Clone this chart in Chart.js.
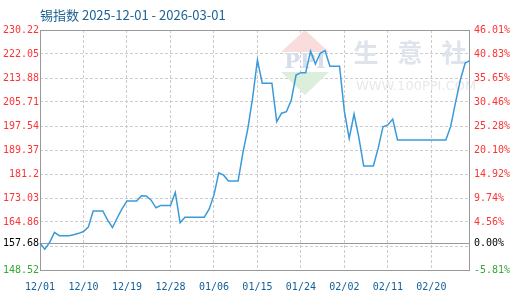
<!DOCTYPE html>
<html>
<head>
<meta charset="utf-8">
<script src="https://cdn.jsdelivr.net/npm/chart.js@4.4.1/dist/chart.umd.min.js"></script>
<style>
  html, body { margin: 0; padding: 0; background: #fff; }
</style>
</head>
<body>
<canvas id="chart" width="520" height="300"></canvas>
<script>
// Data
const titleText = '锡指数 2025-12-01 - 2026-03-01';
const dates = [
  '12/01','12/02','12/03','12/04','12/05','12/06','12/07','12/08','12/09','12/10',
  '12/11','12/12','12/13','12/14','12/15','12/16','12/17','12/18','12/19','12/20',
  '12/21','12/22','12/23','12/24','12/25','12/26','12/27','12/28','12/29','12/30','12/31',
  '01/01','01/02','01/03','01/04','01/05','01/06','01/07','01/08','01/09','01/10',
  '01/11','01/12','01/13','01/14','01/15','01/16','01/17','01/18','01/19','01/20',
  '01/21','01/22','01/23','01/24','01/25','01/26','01/27','01/28','01/29','01/30','01/31',
  '02/01','02/02','02/03','02/04','02/05','02/06','02/07','02/08','02/09','02/10',
  '02/11','02/12','02/13','02/14','02/15','02/16','02/17','02/18','02/19','02/20',
  '02/21','02/22','02/23','02/24','02/25','02/26','02/27','02/28'
];
const tinIndex = [
  157.68, 155.6, 157.9, 161.3, 160.2, 160.2, 160.2, 160.5, 161.0, 161.6,
  163.1, 168.6, 168.6, 168.6, 165.5, 163.0, 166.3, 169.4, 172.0, 172.0,
  172.0, 173.8, 173.7, 172.3, 169.7, 170.5, 170.5, 170.5, 174.9, 164.6, 166.5,
  166.5, 166.5, 166.5, 166.5, 169.2, 174.0, 181.6, 180.8, 178.8, 178.8,
  178.8, 188.5, 196.5, 207.0, 220.0, 212.1, 212.1, 212.1, 199.0, 201.9,
  202.4, 206.3, 214.9, 215.7, 215.7, 223.0, 218.6, 222.3, 223.2, 217.9, 217.9,
  217.9, 202.5, 193.3, 201.6, 193.6, 183.9, 183.9, 183.9, 190.0, 197.3,
  197.9, 199.9, 192.8, 192.8, 192.8, 192.8, 192.8, 192.8, 192.8, 192.8,
  192.8, 192.8, 192.8, 197.4, 205.5, 213.2, 219.0, 219.8
];
const basePrice = 157.68;
const leftTicks = [148.52, 156.69, 157.68, 164.86, 173.03, 181.2, 189.37, 197.54, 205.71, 213.88, 222.05, 230.22];
const leftTickLabels = ['148.52', '', '157.68', '164.86', '173.03', '181.2', '189.37', '197.54', '205.71', '213.88', '222.05', '230.22'];
const rightTicks = [-5.81, -0.63, 0, 4.56, 9.74, 14.92, 20.10, 25.28, 30.46, 35.65, 40.83, 46.01];
const rightTickLabels = ['-5.81%', '', '0.00%', '4.56%', '9.74%', '14.92%', '20.10%', '25.28%', '30.46%', '35.65%', '40.83%', '46.01%'];
const xTickEvery = 9;

const monoFont = { family: '"DejaVu Sans Mono", monospace', size: 10 };

function tickColor(ctx, zeroValue) {
  if (!ctx.tick) return '#f33';
  if (ctx.tick.value === zeroValue) return '#000';
  if (ctx.index === 0) return '#3a3';
  return '#f33';
}

// title, watermark, frame and baseline
const decor = {
  id: 'decor',
  beforeDatasetsDraw(chart) {
    const { ctx, chartArea: a, scales } = chart;
    ctx.save();
    // logo
    ctx.fillStyle = '#f9dcdc';
    ctx.beginPath(); ctx.moveTo(305, 30); ctx.lineTo(329, 52); ctx.lineTo(281, 52); ctx.closePath(); ctx.fill();
    ctx.fillStyle = '#dcefdc';
    ctx.beginPath(); ctx.moveTo(281, 72); ctx.lineTo(329, 72); ctx.lineTo(305, 95); ctx.closePath(); ctx.fill();
    ctx.fillStyle = '#d6deec';
    ctx.font = 'bold 21px "DejaVu Serif", serif';
    ctx.textAlign = 'center'; ctx.textBaseline = 'middle';
    ctx.fillText('PPI', 305, 63);
    // watermark
    ctx.fillStyle = '#dfe3ec';
    ctx.font = 'bold 25px "Noto Sans CJK SC", sans-serif';
    ['生', '意', '社'].forEach((ch, i) => ctx.fillText(ch, 366 + i * 44, 52));
    ctx.fillStyle = '#e8e8e8';
    ctx.font = '13px "DejaVu Sans", sans-serif';
    ctx.fillText('WWW.100PPI.COM', 416, 87);

    // frame
    ctx.strokeStyle = '#999';
    ctx.lineWidth = 1;
    ctx.strokeRect(Math.round(a.left) + 0.5, Math.round(a.top) + 0.5,
      Math.round(a.right - a.left) - 1, Math.round(a.bottom - a.top));
    const yb = Math.round(scales.y.getPixelForValue(basePrice)) + 0.5;
    ctx.beginPath(); ctx.moveTo(a.left, yb); ctx.lineTo(a.right, yb); ctx.stroke();
    ctx.restore();
  },
  afterDraw(chart) {
    const { ctx, chartArea: a } = chart;
    ctx.save();
    ctx.fillStyle = '#1e6394';
    ctx.font = '13px "Noto Sans CJK SC", sans-serif';
    ctx.textAlign = 'left'; ctx.textBaseline = 'middle';
    ctx.fillText(titleText, a.left, 15);
    ctx.restore();
  }
};

new Chart(document.getElementById('chart'), {
  type: 'line',
  data: {
    labels: dates,
    datasets: [{
      label: '锡指数',
      data: tinIndex,
      borderColor: '#3a9ad9',
      borderWidth: 1.5,
      pointRadius: 0,
      tension: 0,
      fill: false,
      yAxisID: 'y'
    }]
  },
  options: {
    responsive: false,
    animation: false,
    layout: { padding: { top: 30, left: 0, right: 0, bottom: 0 } },
    plugins: { legend: { display: false }, tooltip: { enabled: false }, title: { display: false } },
    scales: {
      x: {
        afterFit: s => { s.height = 30; },
        border: { display: false, dash: [3, 2] },
        grid: { color: '#ccc', drawTicks: false },
        ticks: {
          autoSkip: false, maxRotation: 0, padding: 11,
          color: '#13609a', font: monoFont,
          callback: (v, i) => (i % xTickEvery === 0 ? dates[i] : null)
        }
      },
      y: {
        position: 'left',
        min: leftTicks[0], max: leftTicks[leftTicks.length - 1],
        afterFit: s => { s.width = 40; },
        afterBuildTicks: s => { s.ticks = leftTicks.map(v => ({ value: v })); },
        border: { display: false, dash: [3, 2] },
        grid: {
          drawTicks: false,
          color: c => (c.tick && (c.tick.value === basePrice || c.index === 0 || c.index === leftTicks.length - 1)) ? 'rgba(0,0,0,0)' : '#ccc'
        },
        ticks: {
          padding: 1, font: monoFont,
          color: c => tickColor(c, basePrice),
          callback: (v, i) => leftTickLabels[i]
        }
      },
      y1: {
        position: 'right',
        min: rightTicks[0], max: rightTicks[rightTicks.length - 1],
        afterFit: s => { s.width = 50; },
        afterBuildTicks: s => { s.ticks = rightTicks.map(v => ({ value: v })); },
        border: { display: false },
        grid: { drawOnChartArea: false, drawTicks: false },
        ticks: {
          padding: 4, font: monoFont,
          color: c => tickColor(c, 0),
          callback: (v, i) => rightTickLabels[i]
        }
      }
    }
  },
  plugins: [decor]
});
</script>
</body>
</html>
